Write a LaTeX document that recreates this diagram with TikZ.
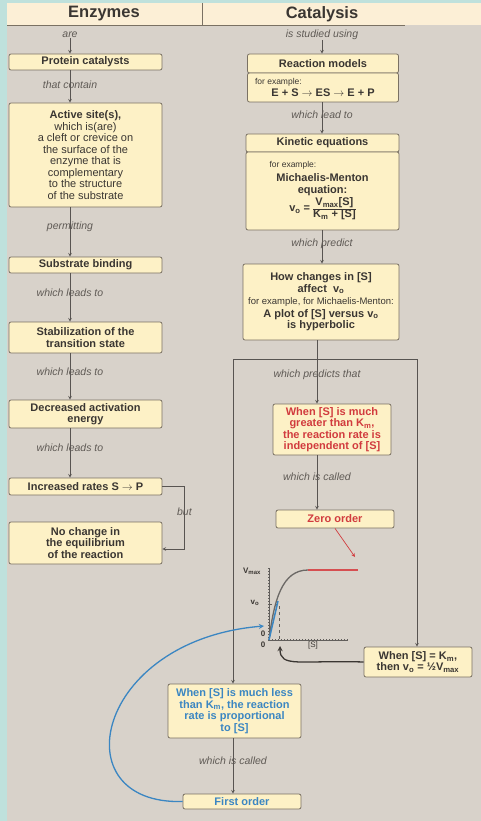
\documentclass[tikz,border=0pt]{standalone}
\usepackage{fontspec}
\setmainfont{Liberation Sans}
\usepackage{tikz}
\usetikzlibrary{calc}
\definecolor{margin}{HTML}{BFE1DC}
\definecolor{headband}{HTML}{FCEFD6}
\definecolor{panel}{HTML}{D8D2CA}
\definecolor{boxfill}{HTML}{FDF1C6}
\definecolor{boxline}{HTML}{7A7163}
\definecolor{ink}{HTML}{3A3632}
\definecolor{taggray}{HTML}{5F5A55}
\definecolor{zerored}{HTML}{D13B3E}
\definecolor{firstblue}{HTML}{3B86C2}
\tikzstyle{concept} = [draw=boxline, fill=boxfill, rounded corners=2pt, line width=0.8pt, align=center, inner sep=1pt, text=ink, font=\bfseries\fontsize{11}{11.5}\selectfont]
\tikzstyle{tag} = [font=\itshape\fontsize{10.5}{12}\selectfont, text=taggray, inner sep=0pt]
\tikzstyle{head} = [font=\bfseries\fontsize{16.5}{18}\selectfont, text=ink]
\tikzstyle{link} = [draw=ink!85, line width=0.6pt, ->]
\tikzstyle{axlab} = [font=\bfseries\fontsize{8}{9}\selectfont, text=ink, inner sep=0pt]
\newcommand{\eg}[1]{{\normalfont\fontsize{8.5}{10}\selectfont #1}}

\begin{document}
\begin{tikzpicture}[x=1pt, y=-1pt, >=stealth]
    \useasboundingbox (0,0) rectangle (481,821);
    \fill[margin] (0,0) rectangle (481,821);
    \fill[headband] (7,3) rectangle (481,25);
    \fill[panel] (7,25) rectangle (481,821);
    \draw[boxline, line width=0.6pt] (7,25) -- (405,25);
    \draw[boxline, line width=0.6pt] (202,3) -- (202,25);
    \node[head] (enz) at (104,14) {Enzymes};
    \node[head] (cat) at (322,14) {Catalysis};
    % enzymes column
    \coordinate (lx) at (70,0);
    \node[tag] (are) at (70,35) {are};
    \node[concept, minimum width=153pt, minimum height=16pt] (prot) at (85.5,62) {Protein catalysts};
    \node[concept, font=\fontsize{11}{11.5}\selectfont, minimum width=153pt, minimum height=104pt] (site) at (85.5,155) {\textbf{Active site(s),}\\which is(are)\\a cleft or crevice on\\the surface of the\\enzyme that is\\complementary\\to the structure\\of the substrate};
    \node[concept, minimum width=153pt, minimum height=16pt] (bind) at (85.5,265) {Substrate binding};
    \node[concept, minimum width=153pt, minimum height=31pt] (stab) at (85.5,337.5) {Stabilization of the\\transition state};
    \node[concept, minimum width=153pt, minimum height=28pt] (lower) at (85.5,414) {Decreased activation\\energy};
    \node[concept, minimum width=153pt, minimum height=17pt] (rate) at (85.5,486.5) {Increased rates S $\rightarrow$ P};
    \node[concept, minimum width=153pt, minimum height=42pt] (equil) at (85.5,543) {No change in\\the equilibrium\\of the reaction};
    \draw[link] (are) -- (prot.north -| lx);
    \draw[link] (prot.south -| lx) -- (site.north -| lx) node[tag, pos=0.45] {that contain};
    \draw[link] (site.south -| lx) -- (bind.north -| lx) node[tag, pos=0.4] {permitting};
    \draw[link] (bind.south -| lx) -- (stab.north -| lx) node[tag, pos=0.4] {which leads to};
    \draw[link] (stab.south -| lx) -- (lower.north -| lx) node[tag, pos=0.4] {which leads to};
    \draw[link] (lower.south -| lx) -- (rate.north -| lx) node[tag, pos=0.4] {which leads to};
    \draw[link] (rate.east) -- ++(22,0) |- ([yshift=-6pt]equil.east) node[tag, pos=0.2] {but};
    % catalysis column
    \coordinate (rx) at (322,0);
    \node[tag] (study) at (322,35) {is studied using};
    \node[concept, minimum width=151pt, minimum height=19pt] (model) at (323,63.5) {Reaction models};
    \node[concept, minimum width=151pt, minimum height=29pt] (scheme) at (323,87.5) {\eg{\makebox[136pt][l]{for example:}}\\E + S $\rightarrow$ ES $\rightarrow$ E + P};
    \node[concept, minimum width=153pt, minimum height=18pt] (kin) at (322.5,143) {Kinetic equations};
    \node[concept, minimum width=153pt, minimum height=78pt] (mm) at (322.5,191) {\eg{\makebox[140pt][l]{\hspace{17pt}for example:}}\\[3pt]Michaelis-Menton\\equation:\\[1pt]v\textsubscript{o} = \begin{tabular}{@{}c@{}}V\textsubscript{max}[S]\\\hline K\textsubscript{m} + [S]\end{tabular}};
    \node[concept, minimum width=156pt, minimum height=76pt] (how) at (321,302) {How changes in [S]\\affect\ \ v\textsubscript{o}\\[1pt]{\normalfont\fontsize{9.5}{11}\selectfont for example, for Michaelis-Menton:}\\[1pt]A plot of [S] versus v\textsubscript{o}\\is hyperbolic};
    \draw[link] (study) -- (model.north -| rx);
    \draw[link] (scheme.south -| rx) -- (kin.north -| rx) node[tag, pos=0.4] {which lead to};
    \draw[link] (mm.south -| rx) -- (how.north -| rx) node[tag, pos=0.4] {which predict};
    % limiting cases
    \coordinate (cx) at (317,0);
    \coordinate (fl) at (233,359);
    \coordinate (fr) at (417,359);
    \node[concept, text=zerored, minimum width=118pt, minimum height=51pt] (high) at (332,429.5) {When [S] is much\\greater than K\textsubscript{m},\\the reaction rate is\\independent of [S]};
    \node[concept, text=zerored, minimum width=118pt, minimum height=18pt] (zero) at (335,519) {Zero order};
    \node[concept, minimum width=108pt, minimum height=30pt] (half) at (418,662) {When [S] = K\textsubscript{m},\\then v\textsubscript{o} = ½V\textsubscript{max}};
    \node[concept, text=firstblue, minimum width=133pt, minimum height=54pt] (low) at (234.5,711) {When [S] is much less\\than K\textsubscript{m}, the reaction\\rate is proportional\\to [S]};
    \node[concept, text=firstblue, minimum width=118pt, minimum height=15pt] (first) at (242,801.5) {First order};
    \draw[ink!85, line width=0.6pt] (fl) -- (fr);
    \draw[link] (fl) -- (fl |- low.north);
    \draw[link] (fr) -- (fr |- half.north);
    \draw[link] (how.south -| cx) -- (high.north -| cx) node[tag, pos=0.55] {which predicts that};
    \draw[link] (high.south -| cx) -- (zero.north -| cx) node[tag, pos=0.4] {which is called};
    \draw[link] (low.south -| fl) -- (first.north -| fl) node[tag, pos=0.4] {which is called};
    % plot
    \coordinate (O) at (269,640);
    \coordinate (top) at (269,568);
    \coordinate (end) at (348,640);
    \coordinate (km) at (279,604);
    \coordinate (sat) at (308,570);
    \coordinate (tip) at (358,570);
    \draw[ink!80, line width=0.5pt] (top) -- (O) -- (end);
    \draw[ink!80, line width=1.6pt, dash pattern=on 0.5pt off 2.5pt] (top) -- (O) -- (end);
    \draw[ink!80, line width=0.5pt, dashed] (O |- km) -- (km) -- (km |- O);
    \draw[ink!75, line width=1.3pt] (O) .. controls (274,600) and (282,570) .. (sat);
    \draw[zerored!90, line width=1.6pt] (sat) -- (tip);
    \draw[firstblue, line width=1.5pt] (O) -- (278,601);
    \node[axlab] (vmax) at (252,571) {V\textsubscript{max}};
    \node[axlab] (vnull) at (255,603) {v\textsubscript{o}};
    \node[axlab] (zy) at (263,634) {0};
    \node[axlab] (zx) at (263,645) {0};
    \node[axlab, font=\fontsize{8}{9}\selectfont] (sx) at (313,645) {[S]};
    \coordinate (hit) at (280,646);
    \draw[->, zerored, line width=0.7pt] (zero.south) -- (355,557);
    \draw[->, ink, line width=1.3pt] (half.west) .. controls (300,660) and (280,668) .. (hit);
    \draw[->, firstblue, line width=1.3pt] (first.west) .. controls (60,805) and (95,640) .. (264,626);
\end{tikzpicture}
\end{document}
